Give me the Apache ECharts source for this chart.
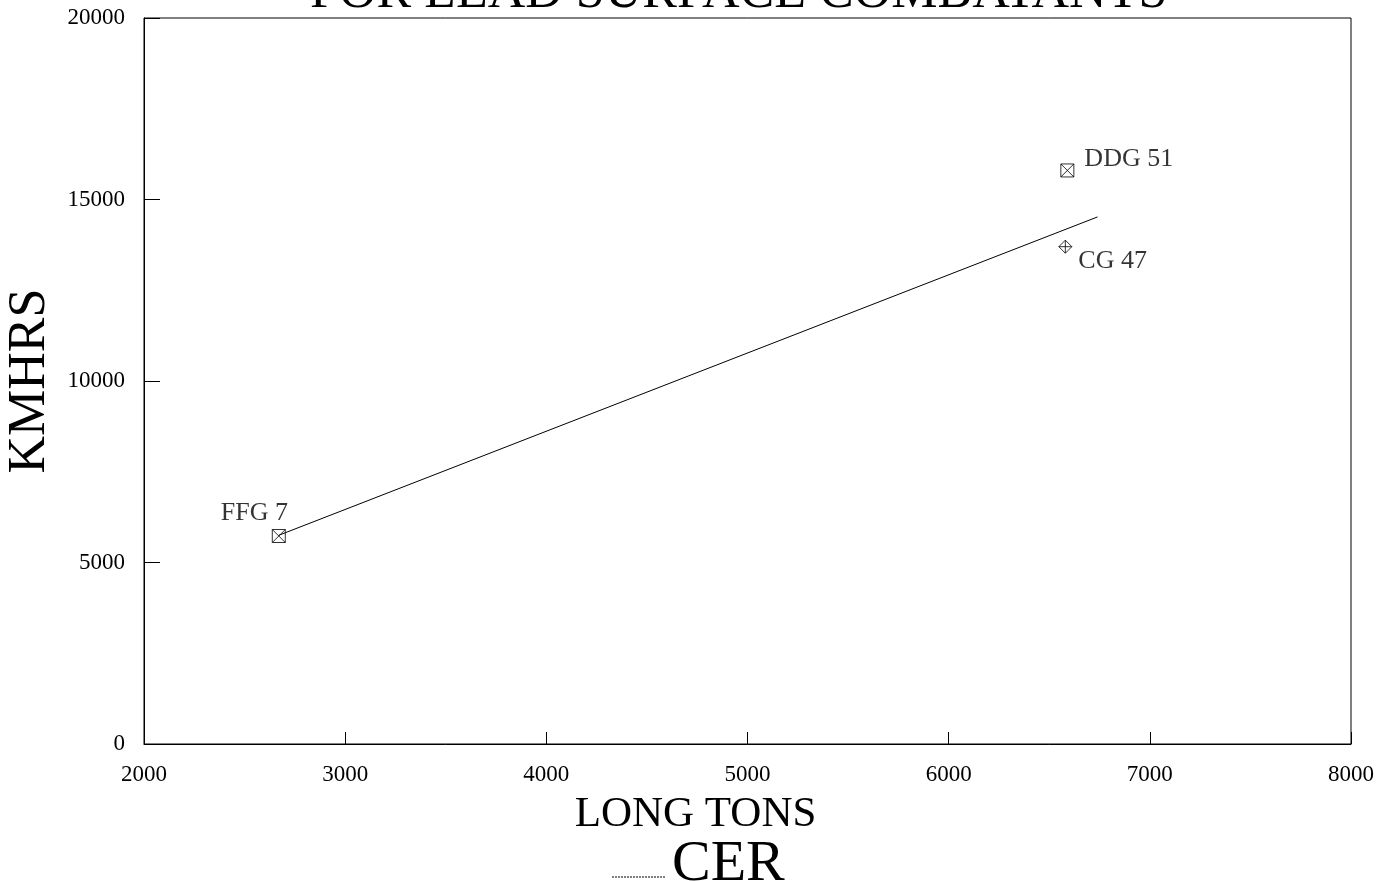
<!DOCTYPE html>
<html>
<head>
<meta charset="utf-8">
<script src="https://cdn.jsdelivr.net/npm/echarts@6/dist/echarts.min.js"></script>
<style>html,body{margin:0;padding:0;background:#fff;}#c{width:1393px;height:881px;}</style>
</head>
<body>
<div id="c"></div>
<script>
var shipNames = ['FFG 7', 'DDG 51', 'CG 47'];
var shipTons = [2670, 6590, 6580];
var shipKmhrs = [5730, 15800, 13700];
var cerTons = [2670, 6740];
var cerKmhrs = [5750, 14520];
var xTicks = [2000, 3000, 4000, 5000, 6000, 7000, 8000];
var yTicks = [0, 5000, 10000, 15000, 20000];

var FONT = 'Liberation Serif';
var boxX = 'path://M0,0 L10,0 L10,10 L0,10 Z M0,0 L10,10 M10,0 L0,10';
var diamondPlus = 'path://M5,0 L10,5 L5,10 L0,5 Z M5,0 L5,10 M0,5 L10,5';
var symbols = [boxX, boxX, diamondPlus];
var labelPos = [[-49, -27], [26, -15], [22, 10]];

var pointData = shipNames.map(function (n, i) {
  return {
    value: [shipTons[i], shipKmhrs[i]],
    name: n,
    symbol: symbols[i],
    label: { show: true, formatter: n, position: labelPos[i], align: 'left', verticalAlign: 'top' }
  };
});

var chart = echarts.init(document.getElementById('c'));
chart.setOption({
  backgroundColor: '#fff',
  animation: false,
  title: {
    text: 'FOR LEAD SURFACE COMBATANTS',
    left: 305,
    top: -38,
    textStyle: { fontFamily: FONT, fontSize: 52, fontWeight: 'normal', color: '#000' }
  },
  graphic: [
    { type: 'line', shape: { x1: 612, y1: 877, x2: 665, y2: 877 }, style: { stroke: '#555', lineWidth: 1.5, lineDash: [2, 1] } },
    { type: 'text', left: 672, top: 836, style: { text: 'CER', font: '58px "Liberation Serif"', fill: '#000' } }
  ],
  grid: { left: 144, right: 42, top: 18, bottom: 137, show: true, borderColor: '#000', borderWidth: 1, outerBoundsMode: 'none', containLabel: false },
  xAxis: {
    type: 'value',
    min: xTicks[0], max: xTicks[xTicks.length - 1], interval: 1000,
    name: 'LONG TONS', nameLocation: 'middle', nameGap: 49,
    nameTextStyle: { fontFamily: FONT, fontSize: 43, color: '#000', padding: [0, 104, 0, 0] },
    axisLine: { show: true, lineStyle: { color: '#000', width: 1 } },
    axisTick: { show: true, inside: true, length: 12, lineStyle: { color: '#000' } },
    axisLabel: { fontFamily: FONT, fontSize: 23, color: '#000', margin: 19, formatter: function (v) { return String(v); } },
    splitLine: { show: false }
  },
  yAxis: {
    type: 'value',
    min: yTicks[0], max: yTicks[yTicks.length - 1], interval: 5000,
    name: 'KMHRS', nameLocation: 'middle', nameGap: 55,
    nameTextStyle: { fontFamily: FONT, fontSize: 52, color: '#000' },
    axisLine: { show: true, lineStyle: { color: '#000', width: 1 } },
    axisTick: { show: true, inside: true, length: 16, lineStyle: { color: '#000' } },
    axisLabel: { fontFamily: FONT, fontSize: 23, color: '#000', margin: 19, formatter: function (v) { return String(v); } },
    splitLine: { show: false }
  },
  series: [
    {
      name: 'CER',
      type: 'line',
      data: cerTons.map(function (t, i) { return [t, cerKmhrs[i]]; }),
      showSymbol: false,
      symbol: 'none',
      lineStyle: { color: '#000', width: 1 },
      z: 2
    },
    {
      name: 'ships',
      type: 'scatter',
      data: pointData,
      symbolSize: 13,
      itemStyle: { color: 'none', borderColor: '#000', borderWidth: 1 },
      label: { fontFamily: FONT, fontSize: 26, color: '#000' },
      z: 3
    }
  ]
});
</script>
</body>
</html>
